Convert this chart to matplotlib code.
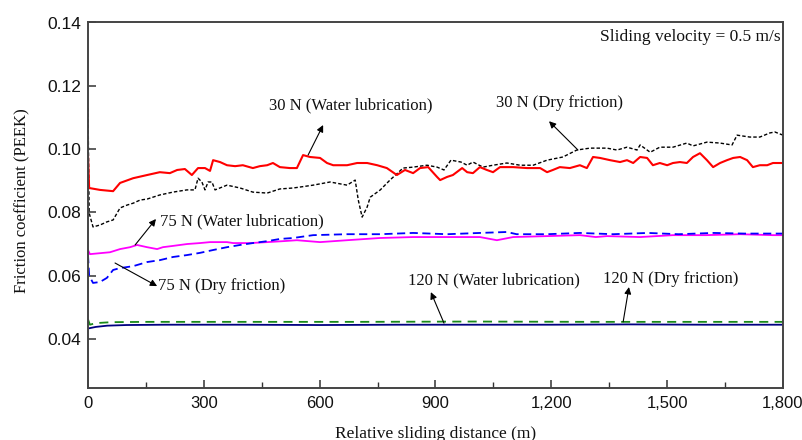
import matplotlib
matplotlib.use("Agg")
import matplotlib.pyplot as plt
from matplotlib.ticker import MultipleLocator, FuncFormatter

# ---------------- data ----------------
x_30_water = [0, 3, 31, 65, 83, 117, 153, 186, 212, 231, 251, 269, 285, 303, 316, 324, 342, 360, 381, 401,
              427, 445, 464, 479, 497, 523, 541, 557, 575, 601, 619, 635, 671, 697, 723, 749, 774, 800, 821, 842,
              860, 881, 904, 912, 930, 945, 969, 982, 997, 1015, 1033, 1049, 1067, 1101, 1137, 1171, 1189, 1204,
              1222, 1248, 1274, 1292, 1308, 1326, 1352, 1378, 1396, 1412, 1430, 1448, 1463, 1481, 1500, 1515,
              1533, 1551, 1567, 1585, 1603, 1619, 1637, 1655, 1671, 1689, 1707, 1722, 1740, 1759, 1774, 1800]
y_30_water = [0.0981, 0.0877, 0.0871, 0.0867, 0.0893, 0.0908, 0.0918, 0.0927, 0.0924, 0.0934, 0.0937, 0.0918,
              0.0940, 0.0940, 0.0931, 0.0965, 0.0959, 0.0949, 0.0946, 0.0949, 0.0940, 0.0946, 0.0949, 0.0956,
              0.0943, 0.0940, 0.0940, 0.0981, 0.0975, 0.0972, 0.0956, 0.0949, 0.0949, 0.0956, 0.0956, 0.0949,
              0.0940, 0.0918, 0.0934, 0.0924, 0.0940, 0.0943, 0.0912, 0.0902, 0.0912, 0.0918, 0.0940, 0.0927,
              0.0924, 0.0943, 0.0934, 0.0927, 0.0943, 0.0943, 0.0940, 0.0940, 0.0927, 0.0934, 0.0943, 0.0940,
              0.0949, 0.0940, 0.0975, 0.0972, 0.0965, 0.0959, 0.0965, 0.0956, 0.0975, 0.0972, 0.0949, 0.0956,
              0.0949, 0.0956, 0.0959, 0.0956, 0.0975, 0.0987, 0.0965, 0.0943, 0.0956, 0.0965, 0.0972, 0.0975,
              0.0965, 0.0943, 0.0949, 0.0949, 0.0956, 0.0956]

x_30_dry = [0, 3, 13, 31, 49, 65, 83, 101, 117, 135, 153, 186, 220, 256, 277, 285, 295, 303, 311, 321, 329,
            360, 394, 427, 464, 497, 531, 549, 583, 627, 671, 684, 692, 700, 710, 723, 731, 757, 782, 816, 842,
            878, 904, 922, 940, 966, 982, 997, 1023, 1049, 1085, 1119, 1153, 1189, 1230, 1266, 1300, 1344, 1370,
            1396, 1422, 1430, 1456, 1481, 1515, 1551, 1567, 1603, 1637, 1668, 1681, 1714, 1740, 1766, 1779, 1800]
y_30_dry = [0.1130, 0.0798, 0.0754, 0.0760, 0.0770, 0.0776, 0.0814, 0.0823, 0.0829, 0.0839, 0.0842, 0.0855,
            0.0864, 0.0871, 0.0871, 0.0908, 0.0896, 0.0871, 0.0896, 0.0896, 0.0871, 0.0886, 0.0877, 0.0864,
            0.0861, 0.0874, 0.0877, 0.0880, 0.0886, 0.0896, 0.0886, 0.0896, 0.0902, 0.0839, 0.0785, 0.0817,
            0.0848, 0.0871, 0.0902, 0.0940, 0.0943, 0.0949, 0.0943, 0.0934, 0.0965, 0.0959, 0.0949, 0.0959,
            0.0943, 0.0949, 0.0956, 0.0949, 0.0949, 0.0965, 0.0975, 0.0997, 0.1003, 0.1003, 0.0997, 0.1006,
            0.0997, 0.1013, 0.0990, 0.1006, 0.1006, 0.1019, 0.1010, 0.1022, 0.1019, 0.1013, 0.1044, 0.1038,
            0.1038, 0.1051, 0.1054, 0.1044]

x_75_water = [0, 5, 31, 57, 83, 109, 127, 153, 179, 194, 220, 257, 290, 316, 360, 376, 420, 464, 505, 541,
              601, 671, 756, 842, 930, 1015, 1059, 1101, 1189, 1274, 1315, 1344, 1430, 1515, 1600, 1689, 1774, 1800]
y_75_water = [0.0681, 0.0668, 0.0671, 0.0674, 0.0684, 0.0690, 0.0697, 0.0690, 0.0684, 0.0690, 0.0694, 0.0700,
              0.0703, 0.0706, 0.0706, 0.0703, 0.0703, 0.0706, 0.0709, 0.0712, 0.0706, 0.0712, 0.0719, 0.0722,
              0.0722, 0.0722, 0.0712, 0.0722, 0.0725, 0.0728, 0.0722, 0.0725, 0.0722, 0.0728, 0.0728, 0.0731,
              0.0728, 0.0728]

x_75_dry = [0, 3, 13, 31, 49, 65, 83, 117, 153, 186, 220, 256, 290, 324, 360, 394, 427, 464, 497, 531, 583,
            671, 757, 842, 930, 1015, 1085, 1110, 1189, 1274, 1360, 1450, 1530, 1620, 1700, 1800]
y_75_dry = [0.0665, 0.0600, 0.0577, 0.0580, 0.0593, 0.0618, 0.0624, 0.0630, 0.0643, 0.0649, 0.0659, 0.0665,
            0.0672, 0.0681, 0.0690, 0.0697, 0.0703, 0.0709, 0.0716, 0.0719, 0.0728, 0.0731, 0.0731, 0.0735,
            0.0731, 0.0735, 0.0738, 0.0731, 0.0731, 0.0735, 0.0731, 0.0735, 0.0731, 0.0735, 0.0733, 0.0733]

x_120_water = [0, 20, 50, 100, 200, 400, 600, 800, 1000, 1200, 1400, 1600, 1800]
y_120_water = [0.0433, 0.0438, 0.0442, 0.0444, 0.0445, 0.0445, 0.0444, 0.0445, 0.0445, 0.0445, 0.0446,
               0.0445, 0.0445]

x_120_dry = [0, 5, 20, 60, 150, 400, 700, 1000, 1300, 1600, 1800]
y_120_dry = [0.0462, 0.0445, 0.0450, 0.0453, 0.0454, 0.0454, 0.0454, 0.0455, 0.0454, 0.0454, 0.0454]

x_ticks = [0, 300, 600, 900, 1200, 1500, 1800]
y_ticks = [0.04, 0.06, 0.08, 0.10, 0.12, 0.14]

labels = ["30 N (Water lubrication)", "30 N (Dry friction)", "75 N (Water lubrication)",
          "75 N (Dry friction)", "120 N (Water lubrication)", "120 N (Dry friction)"]

# ---------------- figure ----------------
fig = plt.figure(figsize=(8.03, 4.40), dpi=100)
ax = fig.add_axes([88 / 803, 1 - 388 / 440, 695 / 803, 365.5 / 440])

ax.plot(x_120_dry, y_120_dry, color="#1a8a1a", lw=1.3, ls=(0, (5, 3.5)))
ax.plot(x_120_water, y_120_water, color="#000080", lw=1.3)
ax.plot(x_75_water, y_75_water, color="#ff00ff", lw=1.3)
ax.plot(x_75_dry, y_75_dry, color="#0000ff", lw=1.3, ls=(0, (4.5, 2.5)))
ax.plot(x_30_dry, y_30_dry, color="#000000", lw=1.0, ls=(0, (2.5, 1.5)))
ax.plot(x_30_water, y_30_water, color="#ff0000", lw=1.5)

ax.set_xlim(0, 1800)
ax.set_ylim(0.0245, 0.14)
ax.set_xticks(x_ticks)
ax.xaxis.set_minor_locator(MultipleLocator(150))
ax.set_yticks(y_ticks)
ax.xaxis.set_major_formatter(FuncFormatter(lambda v, p: f"{int(v):,}"))
ax.yaxis.set_major_formatter(FuncFormatter(lambda v, p: f"{v:.2f}"))

tick_font = "Liberation Sans"
for lab in ax.get_xticklabels() + ax.get_yticklabels():
    lab.set_fontfamily(tick_font)
ax.tick_params(axis="both", which="major", direction="in", length=6, width=1.1,
               color="#333333", labelcolor="#111111")
ax.tick_params(axis="x", which="major", pad=6, labelsize=12)
ax.tick_params(axis="y", which="major", pad=5, labelsize=12.5)
ax.tick_params(axis="x", which="minor", direction="in", length=4, width=1.0, color="#333333")
ax.tick_params(top=False, right=False)

for sp in ax.spines.values():
    sp.set_color("#444444")
    sp.set_linewidth(1.4)

serif = "Liberation Serif"
ax.set_xlabel("Relative sliding distance (m)", fontfamily=serif, fontsize=12.5, color="#111111")
ax.set_ylabel("Friction coefficient (PEEK)", fontfamily=serif, fontsize=12, color="#111111")
ax.xaxis.set_label_coords(0.5, -0.103)
ax.yaxis.set_label_coords(-0.083, 0.514)

ax.text(1795, 0.1355, "Sliding velocity = 0.5 m/s", fontfamily=serif, fontsize=12.5,
        ha="right", va="center", color="#111111")

text_pos = [(469, 0.1139), (1222, 0.1145), (186, 0.0770), (181, 0.0567), (829, 0.0586), (1334, 0.0589)]
text_ha = ["left", "center", "left", "left", "left", "left"]
arrow_head = [(609, 0.1076), (1194, 0.1088), (176, 0.0779), (179, 0.0567), (888, 0.0548), (1401, 0.0564)]
arrow_tail = [(570, 0.0981), (1269, 0.0997), (122, 0.0697), (70, 0.0640), (922, 0.0450), (1386, 0.0454)]

for lab, pos, ha in zip(labels, text_pos, text_ha):
    ax.text(pos[0], pos[1], lab, fontfamily=serif, fontsize=12, ha=ha, va="center", color="#111111")
for head, tail in zip(arrow_head, arrow_tail):
    ax.annotate("", xy=head, xytext=tail,
                arrowprops=dict(arrowstyle="-|>", color="black", lw=0.8, mutation_scale=10,
                                shrinkA=0, shrinkB=0))

fig.savefig("out.png", dpi=100)
